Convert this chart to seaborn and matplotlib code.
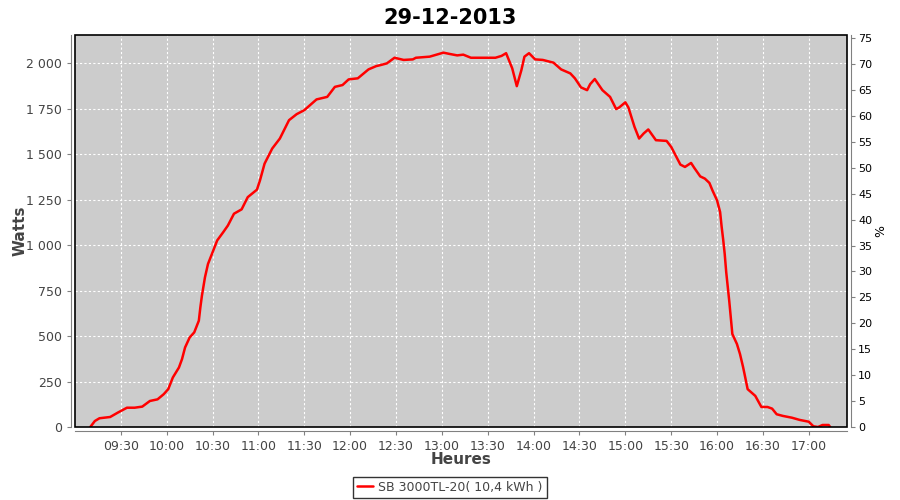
import pandas as pd
import numpy as np
import matplotlib
matplotlib.use("Agg")
import matplotlib.pyplot as plt
import matplotlib.dates as mdates
from matplotlib.patches import Rectangle
from matplotlib.ticker import FuncFormatter
import seaborn as sns

# ---- data ----
heures = [
    "09:10", "09:13", "09:16", "09:23", "09:28", "09:34", "09:39", "09:44", "09:49", "09:54",
    "09:58", "10:01", "10:04", "10:08", "10:10", "10:12", "10:15", "10:18", "10:21", "10:22",
    "10:23", "10:25", "10:27", "10:30", "10:33", "10:37", "10:40", "10:44", "10:49", "10:53",
    "10:59", "11:01", "11:04", "11:09", "11:14", "11:20", "11:25", "11:30", "11:38", "11:45",
    "11:50", "11:55", "11:59", "12:05", "12:12", "12:17", "12:20", "12:24", "12:29", "12:35",
    "12:41", "12:43", "12:52", "13:01", "13:05", "13:10", "13:14", "13:19", "13:35", "13:39",
    "13:42", "13:46", "13:49", "13:52", "13:54", "13:57", "14:01", "14:06", "14:13", "14:18",
    "14:24", "14:27", "14:31", "14:35", "14:37", "14:40", "14:45", "14:50", "14:54", "14:56",
    "15:00", "15:02", "15:06", "15:09", "15:12", "15:15", "15:20", "15:27", "15:30", "15:36",
    "15:39", "15:43", "15:45", "15:49", "15:52", "15:55", "15:57", "16:00", "16:02", "16:03",
    "16:04", "16:05", "16:06", "16:07", "16:08", "16:09", "16:10", "16:13", "16:15", "16:17",
    "16:18", "16:20", "16:25", "16:29", "16:33", "16:36", "16:39", "16:43", "16:49", "16:54",
    "17:00", "17:03", "17:06", "17:09", "17:13", "17:14",
]
watts = [
    0, 33, 48, 55, 79, 106, 106, 112, 143, 152,
    180, 208, 272, 327, 373, 437, 492, 520, 584, 657,
    720, 822, 896, 960, 1025, 1071, 1107, 1172, 1196, 1263,
    1304, 1355, 1447, 1530, 1585, 1686, 1719, 1741, 1800, 1814,
    1869, 1879, 1910, 1916, 1965, 1983, 1989, 1998, 2029, 2017,
    2020, 2029, 2035, 2057, 2050, 2042, 2046, 2029, 2029, 2039,
    2054, 1971, 1873, 1961, 2035, 2054, 2020, 2017, 2002, 1965,
    1943, 1916, 1866, 1851, 1884, 1912, 1851, 1814, 1747, 1756,
    1784, 1756, 1649, 1585, 1613, 1635, 1576, 1572, 1539, 1442,
    1429, 1451, 1425, 1377, 1365, 1341, 1300, 1245, 1181, 1100,
    1030, 951, 850, 770, 690, 600, 511, 456, 401, 330,
    290, 208, 171, 110, 110, 101, 70, 61, 51, 39,
    29, 4, 0, 11, 11, 0,
]
serie = "SB 3000TL-20( 10,4 kWh )"
titre = "29-12-2013"
watts_ticks = list(range(0, 2001, 250))
pct_ticks = list(range(0, 76, 5))

df = pd.DataFrame({
    "Heures": pd.to_datetime(["2013-12-29 " + h for h in heures]),
    "Watts": watts,
})

sns.set_style("white")
plt.rcParams["font.family"] = ["DejaVu Sans"]

fig = plt.figure(figsize=(9, 5), dpi=100)
ax = fig.add_axes([75 / 900, 1 - 427 / 500, 772 / 900, 392 / 500])
ax.set_facecolor("#cccccc")

sns.lineplot(data=df, x="Heures", y="Watts", color="#ff0000", linewidth=1.8,
             ax=ax, label=serie, legend=False)

ax.set_xlim(pd.Timestamp("2013-12-29 09:00"), pd.Timestamp("2013-12-29 17:25"))
ax.set_ylim(0, 2154)
ax.set_yticks(watts_ticks)
ax.yaxis.set_major_formatter(FuncFormatter(lambda v, p: f"{int(v):,}".replace(",", " ")))
ax.xaxis.set_major_locator(mdates.MinuteLocator(byminute=[0, 30]))
ax.xaxis.set_major_formatter(mdates.DateFormatter("%H:%M"))
ax.set_xticks([t for t in ax.get_xticks()
               if mdates.num2date(t).strftime("%H:%M") != "09:00"])

ax.grid(True, color="white", linestyle=(0, (2, 2)), linewidth=0.8)
for side in ["left", "bottom"]:
    ax.spines[side].set_position(("outward", 3))
    ax.spines[side].set_color("#808080")
ax.spines["top"].set_visible(False)
ax.spines["right"].set_visible(False)
ax.tick_params(axis="both", which="major", length=3, color="#808080",
               labelsize=9, labelcolor="#444444", left=True, bottom=True)

ax.set_xlabel("Heures", fontsize=11, fontweight="bold", color="#444444")
ax.set_ylabel("Watts", fontsize=11, fontweight="bold", color="#444444")
ax.xaxis.set_label_coords(0.5, -0.065)
ax.yaxis.set_label_coords(-0.062, 0.5)

# plot outline
ax.add_patch(Rectangle((0, 0), 1, 1, transform=ax.transAxes, fill=False,
                       edgecolor="black", linewidth=1.2, clip_on=False, zorder=5))

# right axis (%)
ax2 = ax.twinx()
ax2.set_ylim(0, 75.6)
ax2.set_yticks(pct_ticks)
for side in ["left", "bottom", "top"]:
    ax2.spines[side].set_visible(False)
ax2.spines["right"].set_position(("outward", 3))
ax2.spines["right"].set_color("#808080")
ax2.tick_params(axis="y", length=3, color="#808080", labelsize=8,
                labelcolor="black", pad=2, right=True)
ax2.set_ylabel("%", fontsize=9, color="black", rotation=-90, labelpad=8)
ax2.grid(False)

fig.suptitle(titre, fontsize=15, fontweight="bold", color="black", y=0.985)

handles, labels = ax.get_legend_handles_labels()
leg = fig.legend(handles, labels, loc="lower center", bbox_to_anchor=(0.5, 0.0),
                 frameon=True, fancybox=False, fontsize=9, handlelength=1.3,
                 handletextpad=0.4, borderpad=0.3, borderaxespad=0.2)
leg.get_frame().set_edgecolor("black")
leg.get_frame().set_linewidth(1.0)
for t in leg.get_texts():
    t.set_color("#444444")

fig.savefig("out.png", dpi=100, facecolor="white")
